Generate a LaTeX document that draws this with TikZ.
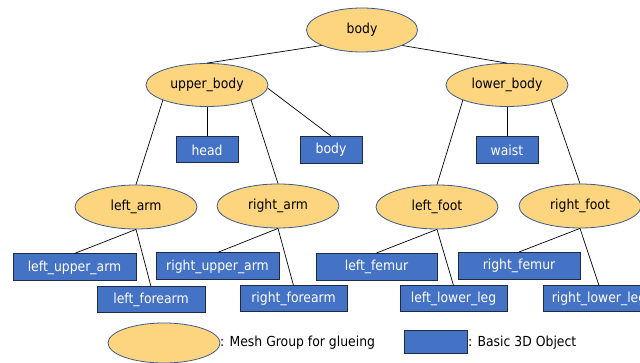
\documentclass[tikz,border=0pt]{standalone}
\usepackage{fontspec}
\setmainfont{DejaVu Sans Condensed}
\usetikzlibrary{shapes.geometric}
\definecolor{grp}{HTML}{FDD57E}
\definecolor{grpline}{HTML}{3F5A8A}
\definecolor{obj}{HTML}{4472C4}
\definecolor{objline}{HTML}{1F2B44}
\tikzset{
  grpnode/.style={ellipse, draw=grpline, line width=0.8pt, fill=grp, inner sep=0pt,
    minimum width=122pt, minimum height=44pt, font=\fontsize{13.8}{16}\selectfont, text=black},
  objnode/.style={rectangle, draw=objline, line width=1pt, fill=obj, inner sep=0pt,
    minimum height=27pt, font=\fontsize{13.8}{16}\selectfont, text=white},
  link/.style={draw=black, line width=0.7pt}
}
\begin{document}
\begin{tikzpicture}[x=1pt,y=-1pt]
\clip (0,0) rectangle (640,363);
\useasboundingbox (0,0) rectangle (640,363);
\fill[white] (0,0) rectangle (640,363);
% groups
\node[grpnode, minimum width=111pt, minimum height=44pt] (body) at (362,30) {body};
\node[grpnode, minimum height=43pt] (ub) at (207,85) {upper\_body};
\node[grpnode, minimum height=43pt] (lb) at (507,85) {lower\_body};
\node[grpnode] (la) at (136,207) {left\_arm};
\node[grpnode] (ra) at (278,206) {right\_arm};
\node[grpnode] (lf) at (437,207) {left\_foot};
\node[grpnode] (rf) at (580,206) {right\_foot};
% objects
\node[objnode, minimum width=62pt, minimum height=26pt] (head) at (207,150) {head};
\node[objnode, minimum width=62pt] (bodybox) at (331,150) {body};
\node[objnode, minimum width=62pt] (waist) at (507,150) {waist};
\node[objnode, minimum width=123pt] (lua) at (74.5,267.5) {left\_upper\_arm};
\node[objnode, minimum width=123pt] (rua) at (217.5,266.5) {right\_upper\_arm};
\node[objnode, minimum width=121pt] (lfem) at (376.5,267) {left\_femur};
\node[objnode, minimum width=122pt] (rfem) at (519,266) {right\_femur};
\node[objnode, minimum width=108pt, minimum height=26pt] (lfa) at (151,300) {left\_forearm};
\node[objnode, minimum width=107pt, minimum height=26pt] (rfa) at (293.5,299) {right\_forearm};
\node[objnode, minimum width=107pt, minimum height=26pt] (lll) at (453.5,299) {left\_lower\_leg};
\node[objnode, minimum width=112pt, minimum height=26pt] (rll) at (599,299) {right\_lower\_leg};
% connectors
\draw[link] (body.-159) -- (ub.north);
\draw[link] (body.-21) -- (lb.north);
\draw[link] (ub.-161) -- (la.north);
\draw[link] (ub.south) -- (head.north);
\draw[link] (ub.-19) -- (ra.north);
\draw[link] (ub.-3) -- (bodybox.north);
\draw[link] (lb.-161) -- (lf.north);
\draw[link] (lb.south) -- (waist.north);
\draw[link] (lb.-19) -- (rf.north);
\draw[link] (la.south) -- (lua.north);
\draw[link] (la.south) -- (lfa.north);
\draw[link] (ra.south) -- (rua.north);
\draw[link] (ra.south) -- (rfa.north);
\draw[link] (lf.south) -- (lfem.north);
\draw[link] (lf.south) -- (lll.north);
\draw[link] (rf.south) -- (rfem.north);
\draw[link] (rf.south) -- (rll.north);
% legend
\node[grpnode, minimum width=112pt, minimum height=40pt] (legg) at (164,343) {};
\node[anchor=west, inner sep=0pt, font=\fontsize{13.8}{16}\selectfont] (leggt) at (220,343) {: Mesh Group for glueing};
\node[objnode, minimum width=63pt, minimum height=23pt] (lego) at (435.5,342) {};
\node[anchor=west, inner sep=0pt, font=\fontsize{13.8}{16}\selectfont] (legot) at (468,343) {: Basic 3D Object};
\end{tikzpicture}
\end{document}
